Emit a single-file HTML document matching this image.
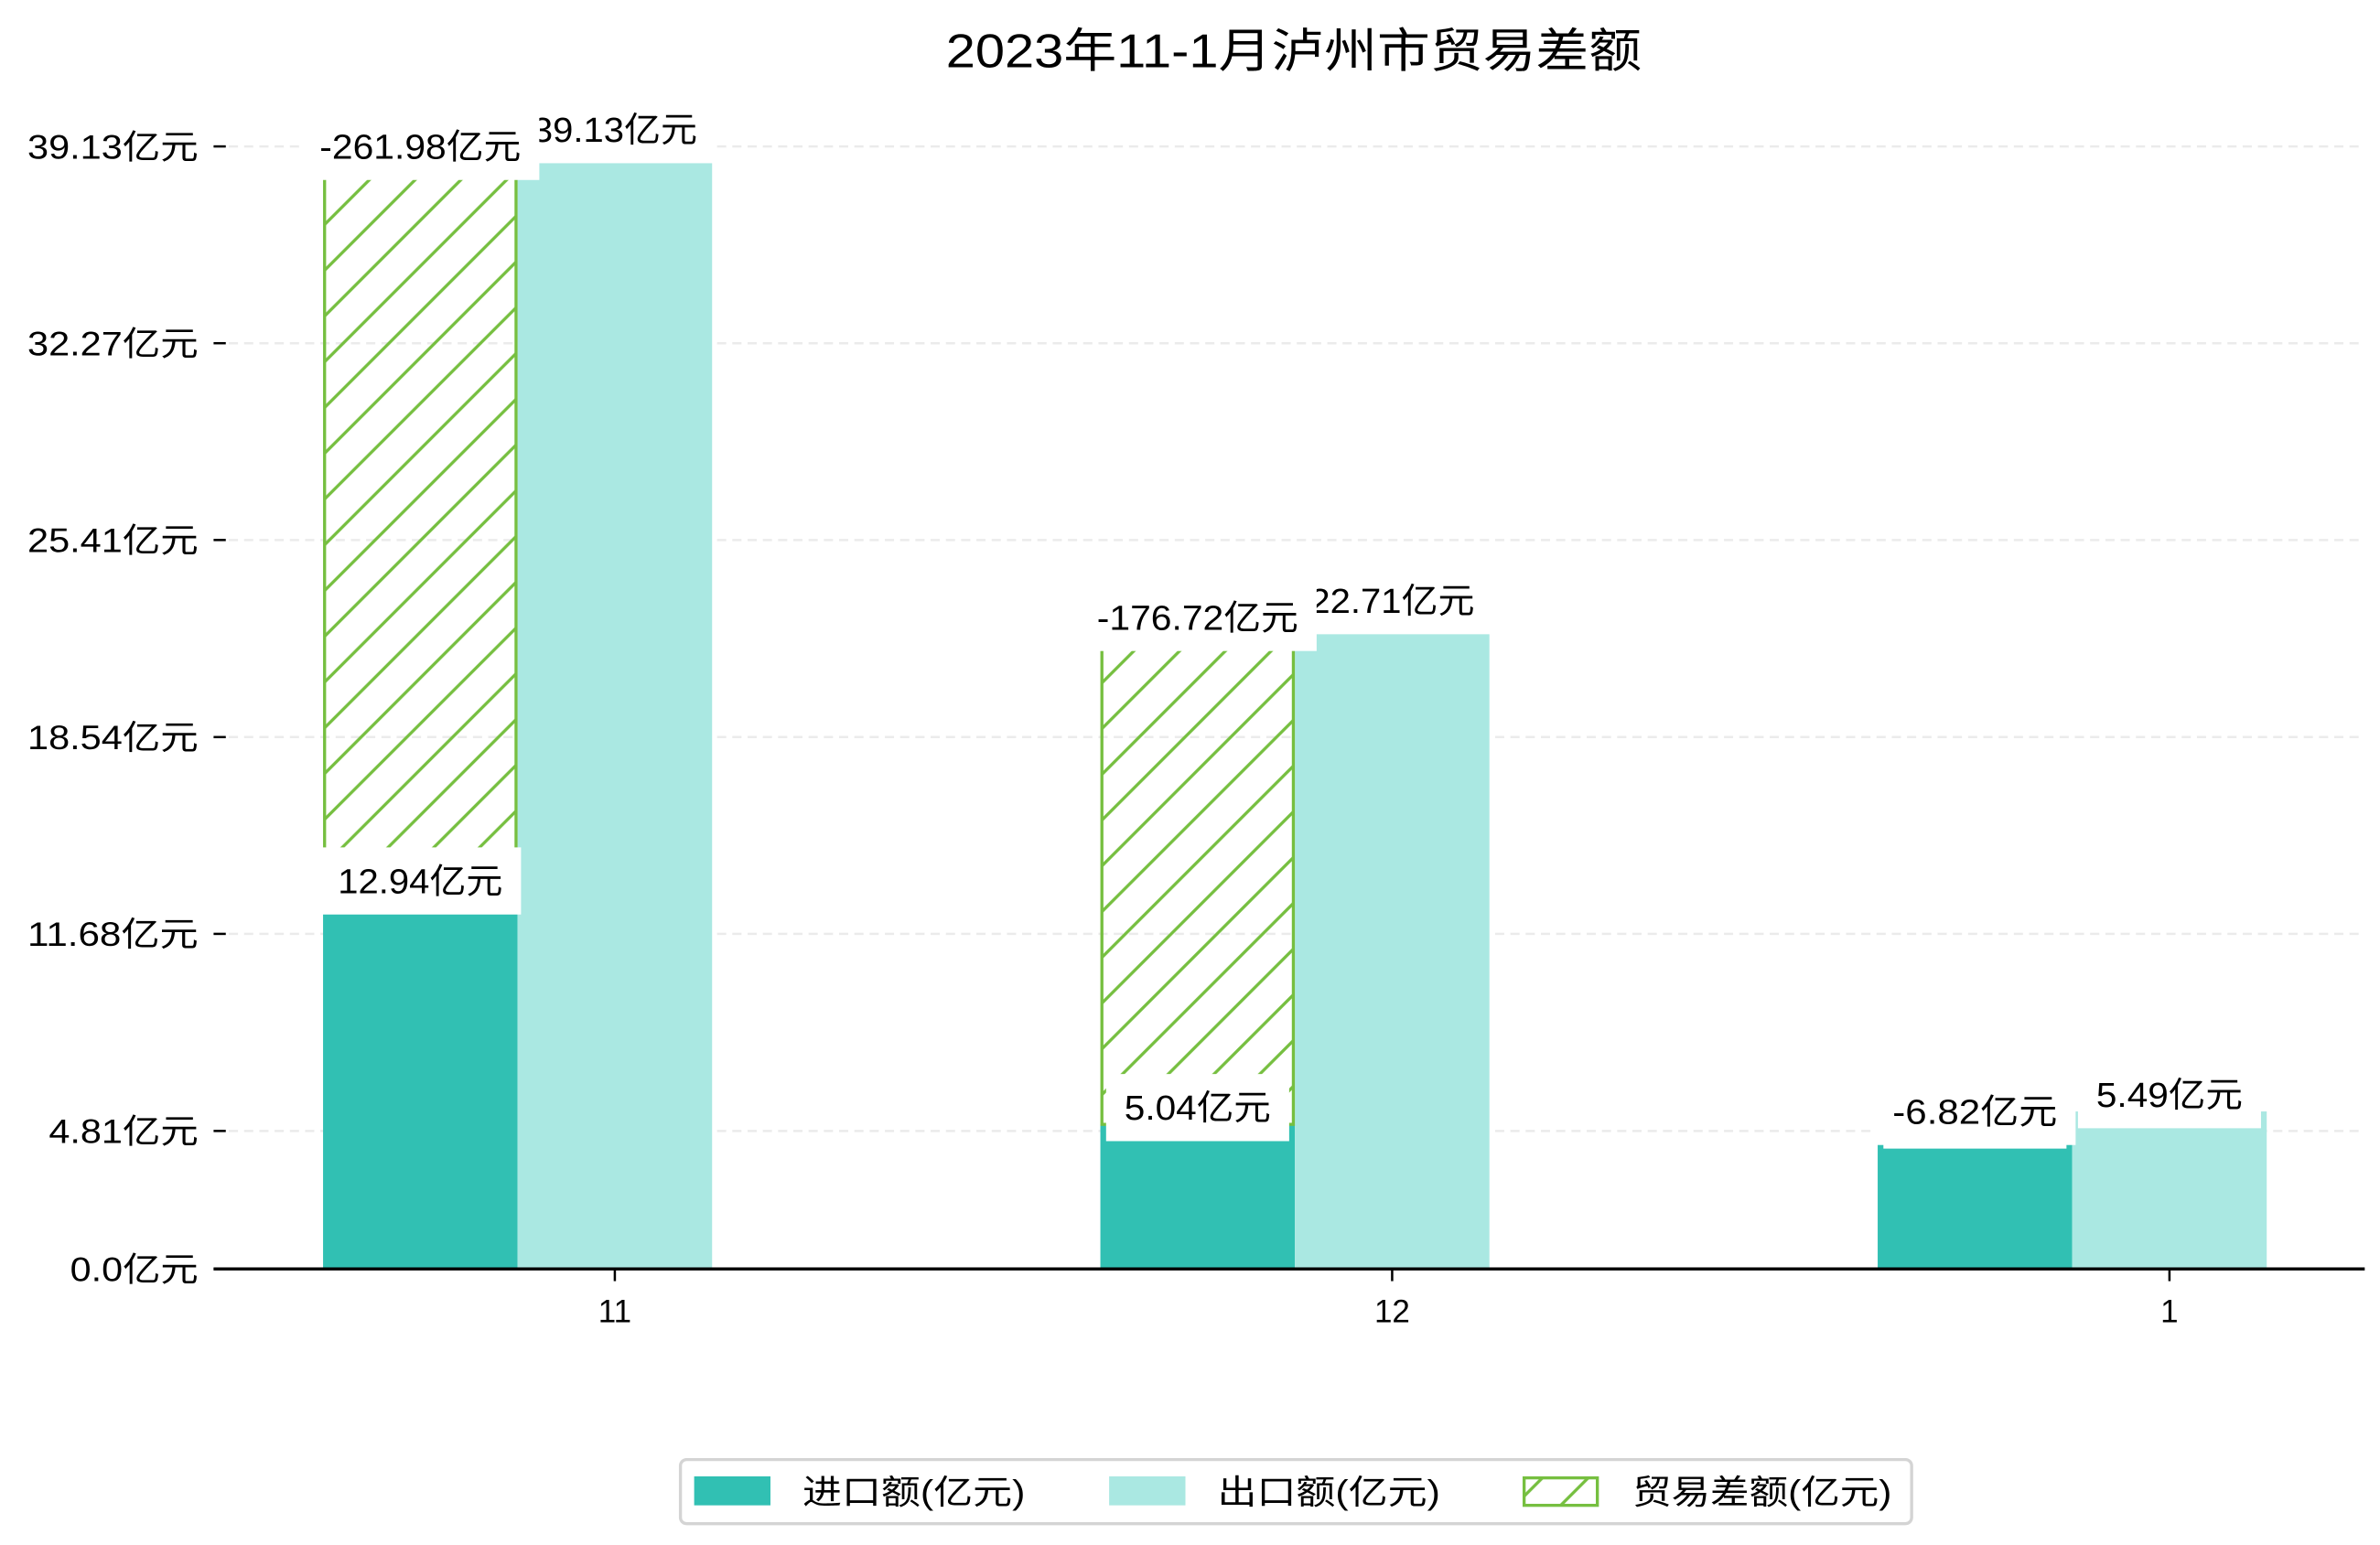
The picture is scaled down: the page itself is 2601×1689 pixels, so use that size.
<!DOCTYPE html>
<html><head><meta charset="utf-8"><style>
html,body{margin:0;padding:0;background:#fff}
svg{display:block}
text{font-family:"Liberation Sans","Noto Sans CJK SC",sans-serif}
</style></head><body>
<svg id="chart" width="2601" height="1689" viewBox="0 0 1560 1013" xmlns="http://www.w3.org/2000/svg">
<defs>
<pattern id="hatch" patternUnits="userSpaceOnUse" width="30" height="30">
<line x1="-3" y1="33" x2="33" y2="-3" stroke="#76bf40" stroke-width="2"/>
<line x1="-3" y1="3" x2="3" y2="-3" stroke="#76bf40" stroke-width="2"/>
<line x1="27" y1="33" x2="33" y2="27" stroke="#76bf40" stroke-width="2"/>
</pattern>
</defs>
<text x="848" y="44" font-size="31" text-anchor="middle" fill="#000" textLength="456" lengthAdjust="spacingAndGlyphs">2023年11-1月泸州市贸易差额</text>
<g id="grid"></g><g id="bars"></g><g id="labels"></g><g id="axes"></g>
<g>
<rect x="446" y="957" width="807" height="42" rx="4" fill="#fff" stroke="#d4d4d4" stroke-width="2"/>
<rect x="455" y="968" width="50" height="19" fill="#31c0b3"/>
<text x="526" y="986" font-size="22" textLength="146" lengthAdjust="spacingAndGlyphs">进口额(亿元)</text>
<rect x="727" y="968" width="50" height="19" fill="#aae8e2"/>
<text x="798" y="986" font-size="22" textLength="146" lengthAdjust="spacingAndGlyphs">出口额(亿元)</text>
<rect x="999" y="969" width="48" height="18" fill="url(#hatch)" stroke="#76bf40" stroke-width="2"/>
<text x="1070" y="986" font-size="22" textLength="170" lengthAdjust="spacingAndGlyphs">贸易差额(亿元)</text>
</g>
</svg>
<script>
const categories = ["11", "12", "1"];
const importValues = [12.94, 5.04, 4.78];
const exportValues = [39.13, 22.71, 5.49];
const balanceLabels = ["-261.98", "-176.72", "-6.82"];
const yTicks = [0.0, 4.81, 11.68, 18.54, 25.41, 32.27, 39.13];
const yTickLabels = ["0.0", "4.81", "11.68", "18.54", "25.41", "32.27", "39.13"];

const NS = "http://www.w3.org/2000/svg";
const X0 = 140, X1 = 1550, Y0 = 832, YMAX = 39.13, YTOP = 96;
const CAT0 = 403, CATSTEP = 509.5, BW = 127.5;
function y(v){ return Y0 - v / YMAX * (Y0 - YTOP); }
function xc(i){ return CAT0 + i * CATSTEP; }
function mk(tag, attrs, parent){ const e = document.createElementNS(NS, tag); for (const k in attrs) e.setAttribute(k, attrs[k]); parent.appendChild(e); return e; }
const grid = document.getElementById('grid'), bars = document.getElementById('bars'), labels = document.getElementById('labels'), axes = document.getElementById('axes');

yTicks.forEach((t, i) => {
  if (i > 0) {
    const g = mk('line', {x1: X0, x2: X1, y1: y(t), y2: y(t), stroke: '#ebebeb', 'stroke-width': 1.5, 'stroke-dasharray': '6 4'}, grid);
    
    
  }
  const tk = mk('line', {x1: X0, x2: X0 + 8, y1: y(t), y2: y(t), stroke: '#000', 'stroke-width': 1.5}, axes);
  
  
  const lbl = yTickLabels[i] + '亿元';
  const tx = mk('text', {x: 130, y: y(t) + 8, 'font-size': 22, 'text-anchor': 'end', textLength: (lbl.length - 2) * 14 + 42, lengthAdjust: 'spacingAndGlyphs'}, axes);
  tx.textContent = lbl;
  
  
});
const base = mk('line', {x1: X0, x2: X1, y1: Y0, y2: Y0, stroke: '#000', 'stroke-width': 2}, axes);



function label(parent, cx, cy, txt, name){
  const w = (txt.length - 2) * 12 + 48 + 24;
  const r = mk('rect', {x: cx - w / 2, y: cy - 22, width: w, height: 44, fill: '#fff'}, parent);
  
  
  const t = mk('text', {x: cx, y: cy + 8, 'font-size': 23, 'text-anchor': 'middle', textLength: w - 24, lengthAdjust: 'spacingAndGlyphs'}, parent);
  t.textContent = txt;
  
  
}

categories.forEach((c, i) => {
  const cx = xc(i), ix = cx - BW * 1.5, ex = cx - BW / 2;
  const imp = mk('rect', {x: ix, y: y(importValues[i]), width: BW, height: Y0 - y(importValues[i]), fill: '#31c0b3'}, bars);
  
  
  const exp = mk('rect', {x: ex, y: y(exportValues[i]), width: BW, height: Y0 - y(exportValues[i]), fill: '#aae8e2'}, bars);
  
  
  const hb = y(importValues[i]), ht = y(exportValues[i]);
  const hat = mk('rect', {x: ix + 1, y: ht, width: BW - 2, height: Math.max(0, hb - ht), fill: 'url(#hatch)', stroke: '#76bf40', 'stroke-width': 2}, bars);
  
  
  const tk = mk('line', {x1: cx, x2: cx, y1: Y0, y2: Y0 + 8, stroke: '#000', 'stroke-width': 1.5}, axes);
  
  
  const xl = mk('text', {x: cx, y: Y0 + 35, 'font-size': 21, 'text-anchor': 'middle'}, axes);
  xl.textContent = c;
  
  
});
categories.forEach((c, i) => {
  const cx = xc(i);
  label(labels, cx - BW, y(importValues[i]) - 11, importValues[i].toFixed(2) + '亿元', 'import-value-label');
  label(labels, cx, y(exportValues[i]) - 11, exportValues[i].toFixed(2) + '亿元', 'export-value-label');
});
categories.forEach((c, i) => {
  label(labels, xc(i) - BW, y(exportValues[i]), balanceLabels[i] + '亿元', 'balance-value-label');
});
</script>
</body></html>
